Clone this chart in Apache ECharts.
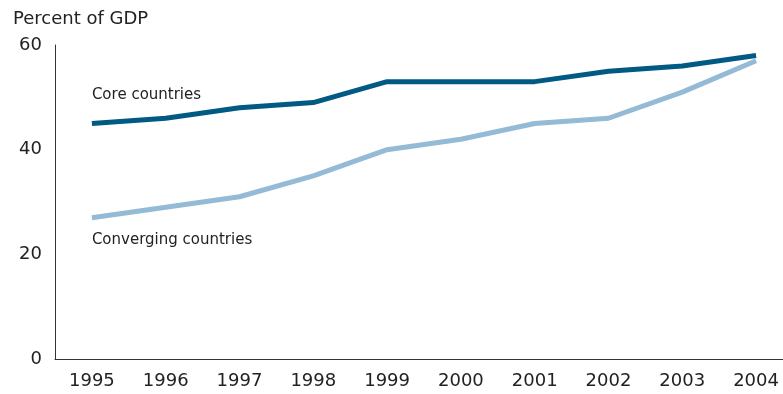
<!DOCTYPE html>
<html>
<head>
<meta charset="utf-8">
<script src="https://cdn.jsdelivr.net/npm/echarts@6/dist/echarts.min.js"></script>
<style>
  html, body { margin: 0; padding: 0; background: #fff; }
  #chart { width: 783px; height: 394px; }
</style>
</head>
<body>
<div id="chart"></div>
<script>
// Government debt, percent of GDP
const years = [1995, 1996, 1997, 1998, 1999, 2000, 2001, 2002, 2003, 2004];
const coreCountries = [45, 46, 48, 49, 53, 53, 53, 55, 56, 58];
const convergingCountries = [27, 29, 31, 35, 40, 42, 45, 46, 51, 57];
const yTicks = [0, 20, 40, 60];

const FONT = '"DejaVu Sans", Verdana, sans-serif';
const chart = echarts.init(document.getElementById('chart'));

const pairs = vals => vals.map((v, i) => [years[i], v]);

chart.setOption({
  animation: false,
  textStyle: { fontFamily: FONT },
  title: {
    text: 'Percent of GDP',
    left: 8, top: 5,
    textStyle: { fontFamily: FONT, fontSize: 18, fontWeight: 'normal', color: '#222' }
  },
  grid: { left: 55, top: 45, right: 0, bottom: 35, containLabel: false },
  xAxis: {
    type: 'value',
    // half a year of padding before the first year, running off the right edge
    min: years[0] - 0.5, max: 2004.365,
    axisLine: { lineStyle: { color: '#333', width: 1 } },
    axisTick: { show: false },
    splitLine: { show: false },
    axisLabel: {
      customValues: years,
      formatter: v => String(v),
      color: '#222', fontSize: 18, margin: 13, fontFamily: FONT
    }
  },
  yAxis: {
    type: 'value',
    min: yTicks[0], max: yTicks[yTicks.length - 1], interval: 20,
    axisLine: { show: true, lineStyle: { color: '#333', width: 1 } },
    axisTick: { show: false },
    splitLine: { show: false },
    axisLabel: { color: '#222', fontSize: 18, margin: 13, fontFamily: FONT }
  },
  series: [
    {
      name: 'Core countries', type: 'line', data: pairs(coreCountries),
      showSymbol: false, lineStyle: { color: '#005a84', width: 5 }, z: 3
    },
    {
      name: 'Converging countries', type: 'line', data: pairs(convergingCountries),
      showSymbol: false, lineStyle: { color: '#95bad6', width: 5 }, z: 2
    }
  ]
});

// Series names placed next to the start of each line
const p1 = chart.convertToPixel({ seriesIndex: 0 }, [years[0], coreCountries[0]]);
const p2 = chart.convertToPixel({ seriesIndex: 1 }, [years[0], convergingCountries[0]]);
chart.setOption({
  graphic: [
    { type: 'text', x: p1[0], y: p1[1] - 28,
      style: { text: 'Core countries', font: '15px ' + FONT, fill: '#222', textVerticalAlign: 'middle' } },
    { type: 'text', x: p2[0], y: p2[1] + 22,
      style: { text: 'Converging countries', font: '15px ' + FONT, fill: '#222', textVerticalAlign: 'middle' } }
  ]
});
</script>
</body>
</html>
